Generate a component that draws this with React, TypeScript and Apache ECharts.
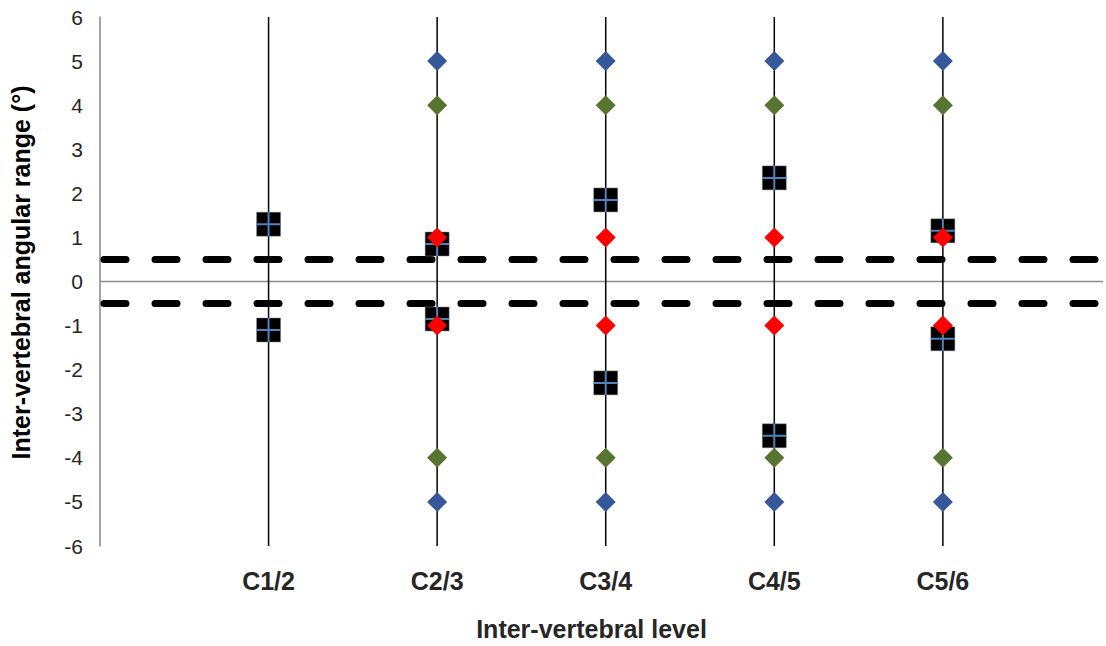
import React, { useEffect, useRef } from "react";
import * as echarts from "echarts";

const categories = ["C1/2", "C2/3", "C3/4", "C4/5", "C5/6"];
const squareUpper = [1.3, 0.85, 1.85, 2.35, 1.15];
const squareLower = [-1.1, -0.85, -2.3, -3.5, -1.3];
const blueUpper = [null, 5, 5, 5, 5];
const blueLower = [null, -5, -5, -5, -5];
const greenUpper = [null, 4, 4, 4, 4];
const greenLower = [null, -4, -4, -4, -4];
const redUpper = [null, 1, 1, 1, 1];
const redLower = [null, -1, -1, -1, -1];
const thresholds = [0.5, -0.5];
const yTicks = { min: -6, max: 6, interval: 1 };
const xRange = { min: 0, max: 5.95 };

const FONT = "'Liberation Sans', Arial, sans-serif";

function pts(...arrs: (number | null)[][]) {
  const out: number[][] = [];
  arrs.forEach((arr) =>
    arr.forEach((v, i) => {
      if (v !== null && v !== undefined) out.push([i + 1, v]);
    })
  );
  return out;
}

export default function App() {
  const ref = useRef<HTMLDivElement>(null);
  useEffect(() => {
    if (!ref.current) return;
    const chart = echarts.init(ref.current, null, { renderer: "svg" });
    const verticals = categories.map((c, i) => ({
      type: "line",
      name: "v-" + c,
      data: [
        [i + 1, yTicks.min],
        [i + 1, yTicks.max],
      ],
      symbol: "none",
      silent: true,
      lineStyle: { color: "#000", width: 1.5 },
      z: 2,
    }));
    const dashed = thresholds.map((t) => ({
      type: "line",
      name: "t" + t,
      data: [
        [xRange.min, t],
        [xRange.max, t],
      ],
      symbol: "none",
      silent: true,
      lineStyle: { color: "#000", width: 7, type: [22, 29], cap: "round", dashOffset: -4 },
      z: 3,
    }));
    const scatterBase = { type: "scatter", silent: true };
    chart.setOption({
      animation: false,
      grid: { left: 100, top: 17, bottom: 91, right: 0 },
      xAxis: {
        type: "value",
        min: xRange.min,
        max: xRange.max,
        interval: 1,
        axisLine: { show: false },
        axisTick: { show: false },
        splitLine: { show: false },
        axisLabel: {
          formatter: (v: number) => categories[v - 1] ?? "",
          fontFamily: FONT,
          fontWeight: "bold",
          fontSize: 25,
          color: "#262626",
          margin: 22,
        },
        name: "Inter-vertebral level",
        nameLocation: "middle",
        nameGap: 70,
        nameTextStyle: {
          fontFamily: FONT,
          fontWeight: "bold",
          fontSize: 25,
          color: "#262626",
          padding: [0, 20, 0, 0],
        },
      },
      yAxis: {
        type: "value",
        min: yTicks.min,
        max: yTicks.max,
        interval: yTicks.interval,
        axisLine: { show: true, lineStyle: { color: "#868686", width: 1.5 } },
        axisTick: { show: false },
        splitLine: { show: false },
        axisLabel: { fontFamily: FONT, fontSize: 21, color: "#262626", margin: 17 },
        name: "Inter-vertebral angular range (°)",
        nameLocation: "middle",
        nameGap: 67,
        nameTextStyle: {
          fontFamily: FONT,
          fontWeight: "bold",
          fontSize: 25,
          color: "#000",
          padding: [0, 0, 0, 18],
        },
      },
      series: [
        {
          type: "line",
          name: "zero",
          data: [
            [xRange.min, 0],
            [xRange.max, 0],
          ],
          symbol: "none",
          silent: true,
          lineStyle: { color: "#8c8c8c", width: 1.5 },
          z: 1,
        },
        ...verticals,
        ...dashed,
        {
          ...scatterBase,
          name: "squares",
          data: pts(squareUpper, squareLower),
          symbol: "rect",
          symbolSize: 24,
          itemStyle: { color: "#000", borderColor: "#888", borderWidth: 0.5, opacity: 1 },
          z: 4,
        },
        {
          ...scatterBase,
          name: "cross",
          data: pts(squareUpper, squareLower),
          symbol: "path://M0,11L24,11L24,13L0,13ZM11,0L13,0L13,24L11,24Z",
          symbolSize: 24,
          itemStyle: { color: "#4F81BD", opacity: 1 },
          z: 5,
        },
        {
          ...scatterBase,
          name: "blue",
          data: pts(blueUpper, blueLower),
          symbol: "diamond",
          symbolSize: 20,
          itemStyle: { color: "#36579A", opacity: 1 },
          z: 6,
        },
        {
          ...scatterBase,
          name: "green",
          data: pts(greenUpper, greenLower),
          symbol: "diamond",
          symbolSize: 20,
          itemStyle: { color: "#577530", opacity: 1 },
          z: 6,
        },
        {
          ...scatterBase,
          name: "red",
          data: pts(redUpper, redLower),
          symbol: "diamond",
          symbolSize: 20,
          itemStyle: { color: "#FF0000", opacity: 1 },
          z: 7,
        },
      ],
    });
    return () => chart.dispose();
  }, []);
  return (
    <div
      ref={ref}
      style={{ position: "fixed", left: 0, top: 0, width: 1106, height: 646, background: "#fff" }}
    />
  );
}
